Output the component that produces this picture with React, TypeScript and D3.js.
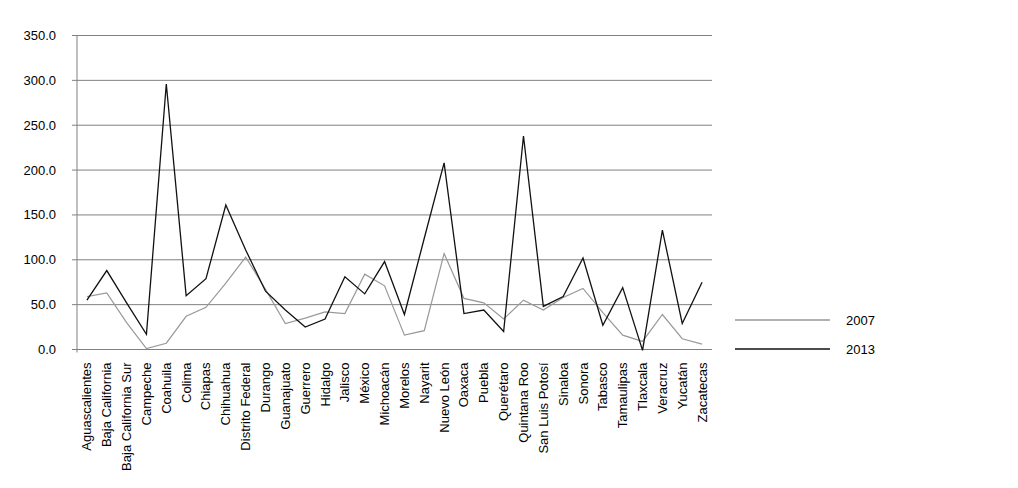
import React from "react";
import * as d3 from "d3";

const states = [
  "Aguascalientes", "Baja California", "Baja California Sur", "Campeche", "Coahuila",
  "Colima", "Chiapas", "Chihuahua", "Distrito Federal", "Durango", "Guanajuato",
  "Guerrero", "Hidalgo", "Jalisco", "México", "Michoacán", "Morelos", "Nayarit",
  "Nuevo León", "Oaxaca", "Puebla", "Querétaro", "Quintana Roo", "San Luis Potosí",
  "Sinaloa", "Sonora", "Tabasco", "Tamaulipas", "Tlaxcala", "Veracruz", "Yucatán",
  "Zacatecas",
];

const values2007 = [
  59, 63, 30, 1, 7, 37, 47, 74, 103, 67, 29, 35, 42, 40, 84, 71, 16, 21,
  107, 57, 52, 34, 55, 44, 58, 68, 41, 16, 9, 39, 12, 6,
];

const values2013 = [
  55, 88, 52, 17, 296, 60, 79, 161, 111, 65, 44, 25, 34, 81, 62, 98, 39, 124,
  208, 40, 44, 20, 238, 48, 59, 102, 27, 69, -1, 133, 29, 75,
];

const yTicks = [0, 50, 100, 150, 200, 250, 300, 350];

const series = [
  { name: "2007", values: values2007, color: "#999999", width: 1.2 },
  { name: "2013", values: values2013, color: "#111111", width: 1.3 },
];

const W = 1018;
const H = 488;
const left = 77;
const right = 712;
const font = "'Liberation Sans', Arial, sans-serif";

export default function App() {
  const x = d3.scalePoint<string>().domain(states).range([left, right]).padding(0.5);
  const y = d3.scaleLinear().domain([0, 350]).range([349.5, 35.5]);
  const fmt = d3.format(".1f");

  const line = (vals: number[]) =>
    d3
      .line<number>()
      .x((_, i) => x(states[i]) as number)
      .y((v) => y(v))(vals) as string;

  return (
    <svg
      width={W}
      height={H}
      style={{ position: "absolute", left: 0, top: 0, background: "#fff" }}
      fontFamily={font}
    >
      <defs>
        <clipPath id="chartArea">
          <rect x={0} y={0} width={W} height={472} />
        </clipPath>
      </defs>
      {/* gridlines + y ticks */}
      {yTicks.map((t) => (
        <g key={t}>
          <line x1={left} x2={right} y1={y(t)} y2={y(t)} stroke="#808080" strokeWidth={1} />
          <line x1={left - 5} x2={left} y1={y(t)} y2={y(t)} stroke="#808080" strokeWidth={1} />
          <text
            x={56}
            y={y(t)}
            dy="0.35em"
            textAnchor="end"
            fontSize={13}
            fill="#000"
          >
            {fmt(t)}
          </text>
        </g>
      ))}
      {/* y axis */}
      <line x1={left} x2={left} y1={y(350)} y2={y(0) + 3} stroke="#808080" strokeWidth={1} />

      {/* series */}
      {series.map((s) => (
        <path
          key={s.name}
          d={line(s.values)}
          fill="none"
          stroke={s.color}
          strokeWidth={s.width}
          strokeLinejoin="miter"
        />
      ))}

      {/* category labels */}
      <g clipPath="url(#chartArea)">
        {states.map((st) => (
          <text
            key={st}
            transform={`translate(${(x(st) as number) + 4.5},362.5) rotate(-90)`}
            textAnchor="end"
            fontSize={13}
            fill="#000"
          >
            {st}
          </text>
        ))}
      </g>

      {/* legend */}
      {series.map((s, i) => {
        const ly = 320 + i * 29;
        return (
          <g key={s.name}>
            <line x1={735} x2={830} y1={ly} y2={ly} stroke={s.color} strokeWidth={s.width + 0.3} />
            <text x={846} y={ly} dy="0.35em" fontSize={13} fill="#000">
              {s.name}
            </text>
          </g>
        );
      })}
    </svg>
  );
}
